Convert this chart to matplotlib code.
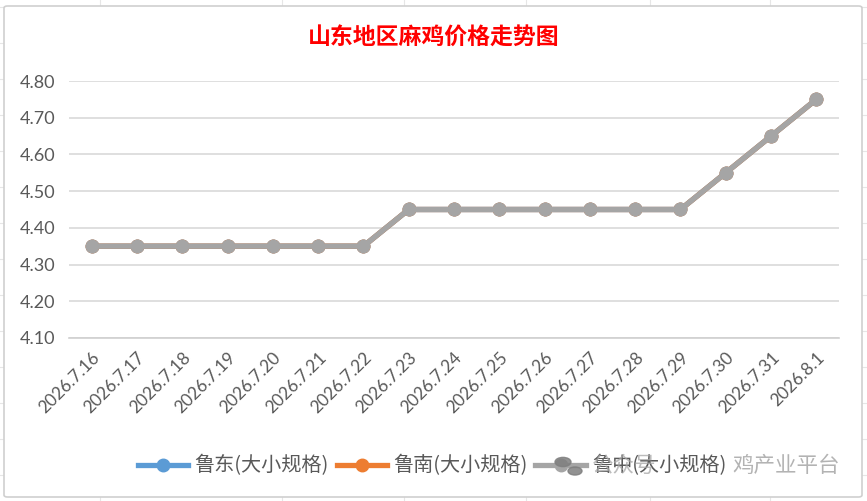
import matplotlib.pyplot as plt
from matplotlib.patches import FancyBboxPatch, Circle
from matplotlib.lines import Line2D

plt.rcParams["font.family"] = ["Lato", "Noto Sans CJK SC", "DejaVu Sans"]

dates = ["2026.7.16", "2026.7.17", "2026.7.18", "2026.7.19", "2026.7.20",
         "2026.7.21", "2026.7.22", "2026.7.23", "2026.7.24", "2026.7.25",
         "2026.7.26", "2026.7.27", "2026.7.28", "2026.7.29", "2026.7.30",
         "2026.7.31", "2026.8.1"]
ludong = [4.35, 4.35, 4.35, 4.35, 4.35, 4.35, 4.35, 4.45, 4.45, 4.45,
          4.45, 4.45, 4.45, 4.45, 4.55, 4.65, 4.75]
lunan = [4.35, 4.35, 4.35, 4.35, 4.35, 4.35, 4.35, 4.45, 4.45, 4.45,
         4.45, 4.45, 4.45, 4.45, 4.55, 4.65, 4.75]
luzhong = [4.35, 4.35, 4.35, 4.35, 4.35, 4.35, 4.35, 4.45, 4.45, 4.45,
           4.45, 4.45, 4.45, 4.45, 4.55, 4.65, 4.75]
series_names = ["鲁东(大小规格)", "鲁南(大小规格)", "鲁中(大小规格)"]
colors = ["#5B9BD5", "#ED7D31", "#A5A5A5"]
yticks = [4.10, 4.20, 4.30, 4.40, 4.50, 4.60, 4.70, 4.80]

W, H = 867, 501
fig = plt.figure(figsize=(W / 100, H / 100), dpi=100)
fig.patch.set_facecolor("white")

# faint spreadsheet cells behind the chart
for yy in range(7, H, 36):
    fig.add_artist(Line2D([0, 1], [1 - yy / H, 1 - yy / H], color="#E6E6E6", lw=0.8, zorder=0))
for xx in [100, 282, 404, 526, 650, 770]:
    fig.add_artist(Line2D([xx / W, xx / W], [0, 1], color="#E6E6E6", lw=0.8, zorder=0))

# chart area
fig.add_artist(FancyBboxPatch((4 / W, 4 / H), 858 / W, 491 / H,
                              boxstyle="round,pad=0,rounding_size=0.004",
                              facecolor="white", edgecolor="#D0D0D0", lw=1.2, zorder=1))

ax = fig.add_axes([69 / W, (H - 338) / H, 770 / W, 257 / H])
ax.set_zorder(2)
ax.patch.set_alpha(0)

x = list(range(len(dates)))
for vals, c in zip([ludong, lunan, luzhong], colors):
    ax.plot(x, vals, color=c, lw=3.8, marker="o", markersize=9, solid_capstyle="round")

ax.set_xlim(-0.5, len(dates) - 0.5)
ax.set_ylim(4.10, 4.80)
ax.set_yticks(yticks)
ax.set_yticklabels([f"{v:.2f}" for v in yticks], fontsize=13, color="#595959")
ax.set_xticks(x)
ax.set_xticklabels(dates, fontsize=12.5, color="#595959", rotation=45,
                   ha="right", va="top", rotation_mode="anchor")
ax.tick_params(axis="both", length=0)
ax.tick_params(axis="y", pad=10)
ax.tick_params(axis="x", pad=8)
ax.grid(axis="y", color="#D9D9D9", lw=1.2)
ax.set_axisbelow(True)
for s in ["top", "right", "left"]:
    ax.spines[s].set_visible(False)
ax.spines["bottom"].set_color("#D0D0D0")
ax.spines["bottom"].set_linewidth(1.2)

fig.text(0.5, 1 - 38 / H, "山东地区麻鸡价格走势图", ha="center", va="center",
         fontsize=16.5, fontweight="bold", color="#FF0000",
         family=["Noto Sans CJK SC"])

handles = [Line2D([0], [0], color=c, lw=3.8, marker="o", markersize=9)
           for c in colors]
leg = fig.legend(handles, series_names, loc="center", ncol=3,
                 bbox_to_anchor=(432 / W, 1 - 466 / H), frameon=False,
                 prop={"family": ["Noto Sans CJK SC"], "size": 14.5},
                 handlelength=2.5, columnspacing=0.4, handletextpad=0.3)
leg.set_zorder(3)
for t in leg.get_texts():
    t.set_color("#595959")

# watermark overlay
fig.add_artist(Circle((563 / W, 1 - 462 / H), 8 / W, color="#7F7F7F", alpha=0.85, zorder=6))
fig.add_artist(Circle((575 / W, 1 - 471 / H), 7 / W, color="#7F7F7F", alpha=0.85, zorder=6))
fig.text(592 / W, 1 - 466 / H, "公众号", fontsize=15.5, color="#A6A6A6", alpha=0.75,
         va="center", ha="left", family=["Noto Sans CJK SC"], zorder=6)
fig.text(732 / W, 1 - 466 / H, "鸡产业平台", fontsize=15.5, color="#A6A6A6", alpha=0.85,
         va="center", ha="left", family=["Noto Sans CJK SC"], zorder=6)

fig.savefig("out.png", dpi=100)
